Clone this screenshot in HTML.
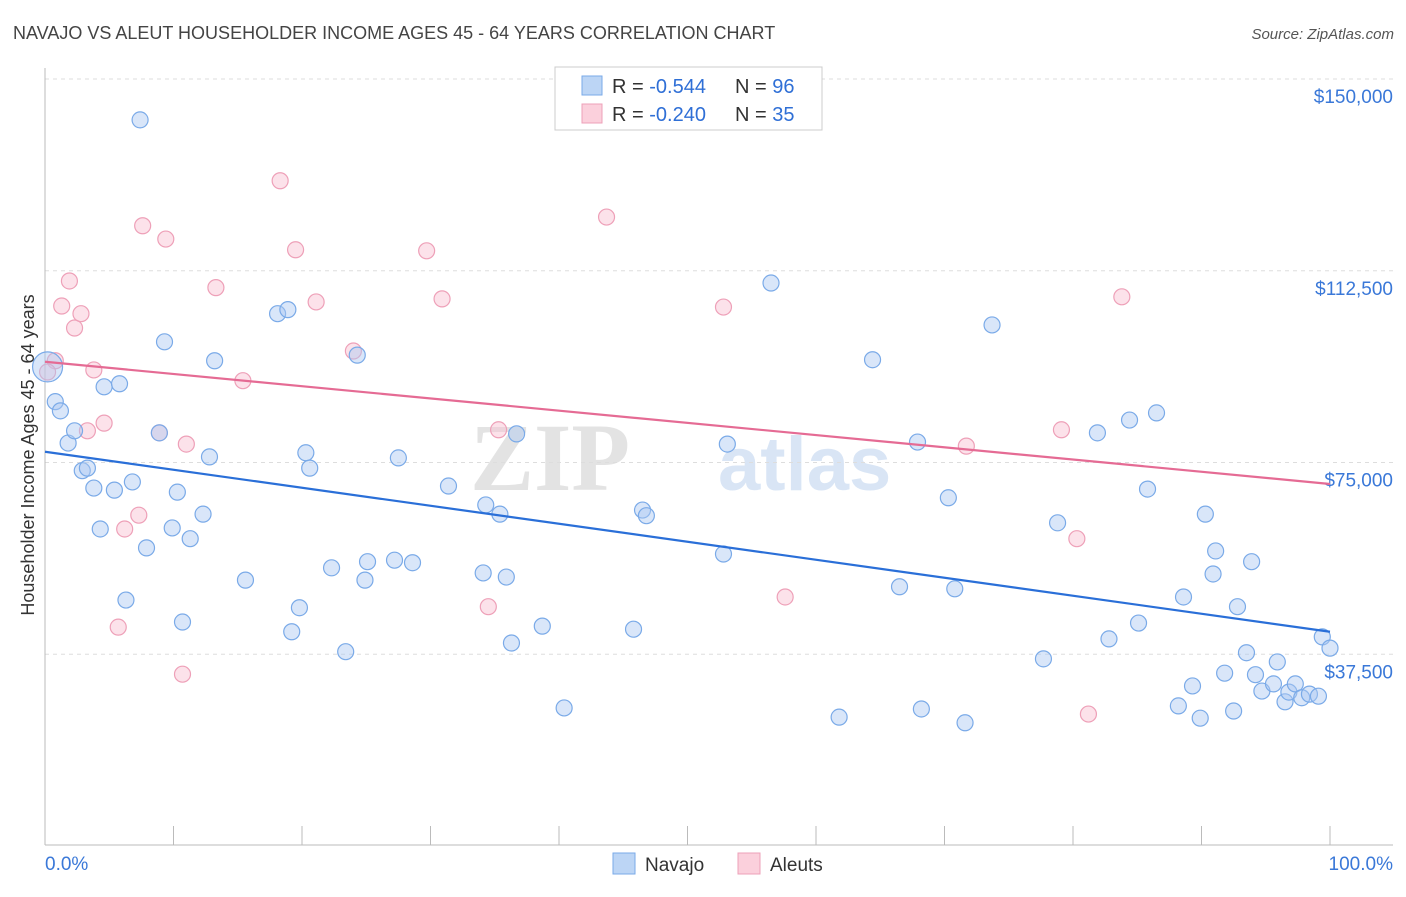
<!DOCTYPE html>
<html><head><meta charset="utf-8"><style>
body{margin:0;background:#fff;}
svg{font-family:"Liberation Sans",sans-serif;}
</style></head><body>
<svg id="chart" width="1406" height="892" viewBox="0 0 1406 892" xmlns="http://www.w3.org/2000/svg">
<text x="13" y="39" font-size="18" fill="#444">NAVAJO VS ALEUT HOUSEHOLDER INCOME AGES 45 - 64 YEARS CORRELATION CHART</text>
<text x="1394" y="39" font-size="15" fill="#555" text-anchor="end" font-style="italic">Source: ZipAtlas.com</text>
<g>
<text x="630" y="490" font-size="96" font-family="Liberation Serif,serif" font-weight="bold" fill="#ddd" text-anchor="end" opacity="0.8">ZIP</text>
<text x="718" y="490" font-size="76" font-weight="bold" fill="#d5e3f5" opacity="0.9">atlas</text>
</g>
<g id="grid"></g>
<g id="axes"></g>
<g id="pts"></g>
<g id="trends"></g>
<text transform="translate(34,455) rotate(-90)" font-size="18" fill="#333" text-anchor="middle">Householder Income Ages 45 - 64 years</text>
<g>
<rect x="555" y="67" width="267" height="63" fill="#fff" stroke="#ccc"/>
<rect x="582" y="76" width="20" height="19" fill="#bcd5f5" stroke="#7aaae8"/>
<text x="612" y="93" font-size="20" fill="#333">R = <tspan fill="#2f6fd6">-0.544</tspan><tspan x="735">N = </tspan><tspan fill="#2f6fd6">96</tspan></text>
<rect x="582" y="104" width="20" height="19" fill="#fbd0dc" stroke="#eea0b8"/>
<text x="612" y="121" font-size="20" fill="#333">R = <tspan fill="#2f6fd6">-0.240</tspan><tspan x="735">N = </tspan><tspan fill="#2f6fd6">35</tspan></text>
</g>
<g>
<rect x="613" y="853" width="22" height="21" fill="#bcd5f5" stroke="#7aaae8"/>
<text x="645" y="871" font-size="19" fill="#333">Navajo</text>
<rect x="738" y="853" width="22" height="21" fill="#fbd0dc" stroke="#eea0b8"/>
<text x="770" y="871" font-size="19" fill="#333">Aleuts</text>
</g>
</svg>
<script>
const yTicks=[37500,75000,112500,150000];
const yTickLabels=["$37,500","$75,000","$112,500","$150,000"];
const xTicks=[0,10,20,30,40,50,60,70,80,90,100];
const navajoX=[7.4,0.8,1.2,1.8,2.3,2.9,3.3,3.8,4.3,4.6,5.4,5.8,6.3,6.8,7.9,8.9,9.3,9.9,10.3,10.7,11.3,12.3,12.8,13.2,15.6,18.1,18.9,19.2,19.8,20.3,20.6,22.3,23.4,24.3,24.9,25.1,27.2,27.5,28.6,31.4,34.1,34.3,35.4,35.9,36.3,36.7,38.7,40.4,45.8,46.5,46.8,52.8,53.1,56.5,61.8,64.4,66.5,67.9,68.2,70.3,70.8,71.6,73.7,77.7,78.8,81.9,82.8,84.4,85.1,85.8,86.5,88.6,88.2,89.3,89.9,90.3,90.9,91.1,91.8,92.5,92.8,93.5,93.9,94.2,94.7,95.6,95.9,96.5,96.8,97.3,97.8,98.4,99.1,99.4,100,0.2];
const navajoY=[142.0,86.9,85.1,78.8,81.2,73.4,73.9,70.0,62.0,89.8,69.6,90.4,48.1,71.2,58.3,80.8,98.6,62.2,69.2,43.8,60.1,64.9,76.1,94.9,52.0,104.1,104.9,41.9,46.6,76.9,73.9,54.4,38.0,96.0,52.0,55.6,55.9,75.9,55.4,70.4,53.4,66.7,64.9,52.6,39.7,80.6,43.0,27.0,42.4,65.7,64.6,57.1,78.6,110.1,25.2,95.1,50.7,79.0,26.8,68.1,50.3,24.1,101.9,36.6,63.2,80.8,40.5,83.3,43.6,69.8,84.7,48.7,27.4,31.3,25.0,64.9,53.2,57.7,33.8,26.4,46.8,37.8,55.6,33.5,30.3,31.7,36.0,28.2,30.1,31.7,29.0,29.7,29.3,40.9,38.7,93.7];
const aleutX=[0.8,1.3,1.9,2.3,2.8,3.3,3.8,4.6,5.7,6.2,7.3,7.6,8.9,9.4,10.7,11.0,13.3,15.4,18.3,19.5,21.1,24.0,29.7,30.9,34.5,35.3,43.7,52.8,57.6,71.7,79.1,80.3,81.2,83.8,0.2];
const aleutY=[94.9,105.6,110.5,101.3,104.1,81.2,93.1,82.7,42.8,62.0,64.7,121.3,80.8,118.7,33.6,78.6,109.2,91.0,130.1,116.6,106.4,96.8,116.4,107.0,46.8,81.4,123.0,105.4,48.7,78.2,81.4,60.1,25.8,107.4,92.7];
const navajoTrend=[77.1,41.9];
const aleutTrend=[94.7,70.8];
const NS="http://www.w3.org/2000/svg";
const X0=45,X1=1330,YB=846,YT=79;
const xs=v=>X0+(X1-X0)*v/100;
const ys=v=>YB-(YB-YT)*v/150;
function mk(tag,attrs,parent){const e=document.createElementNS(NS,tag);for(const k in attrs)e.setAttribute(k,attrs[k]);document.getElementById(parent).appendChild(e);return e;}
yTicks.forEach((t,i)=>{
 const l=mk('line',{x1:45,x2:1393,y1:ys(t/1000),y2:ys(t/1000),stroke:'#ddd','stroke-dasharray':'4,4'},'grid');
 
 
 const tx=mk('text',{x:1393,y:ys(t/1000)+24,'font-size':19,fill:'#3a78d8','text-anchor':'end'},'grid');
 tx.textContent=yTickLabels[i];
 
 
});
const xl=mk('line',{x1:45,x2:1393,y1:845,y2:845,stroke:'#bbb'},'axes');


const yl=mk('line',{x1:45,x2:45,y1:68,y2:845,stroke:'#bbb'},'axes');


xTicks.slice(1).forEach(t=>{
 const l=mk('line',{x1:xs(t),x2:xs(t),y1:826,y2:845,stroke:'#bbb'},'axes');
 
 
});
const xa=mk('text',{x:45,y:870,'font-size':19,fill:'#3a78d8'},'axes');xa.textContent='0.0%';


const xb=mk('text',{x:1393,y:870,'font-size':19,fill:'#3a78d8','text-anchor':'end'},'axes');xb.textContent='100.0%';


aleutX.forEach((x,i)=>{
 const c=mk('circle',{cx:xs(x),cy:ys(aleutY[i]),r:8,fill:'rgba(248,190,208,0.45)',stroke:'#eea0b8','stroke-width':1.2},'pts');
 
 
});
navajoX.forEach((x,i)=>{
 const big=i===navajoX.length-1;
 const c=mk('circle',{cx:xs(x),cy:ys(navajoY[i]),r:big?15:8,fill:'rgba(170,200,242,0.45)',stroke:'#7aaae8','stroke-width':1.2},'pts');
 
 
});
const t1=mk('line',{x1:xs(0),x2:xs(100),y1:ys(navajoTrend[0]),y2:ys(navajoTrend[1]),stroke:'#2a6fd8','stroke-width':2.2},'trends');


const t2=mk('line',{x1:xs(0),x2:xs(100),y1:ys(aleutTrend[0]),y2:ys(aleutTrend[1]),stroke:'#e56b94','stroke-width':2.2},'trends');


</script>
</body></html>
